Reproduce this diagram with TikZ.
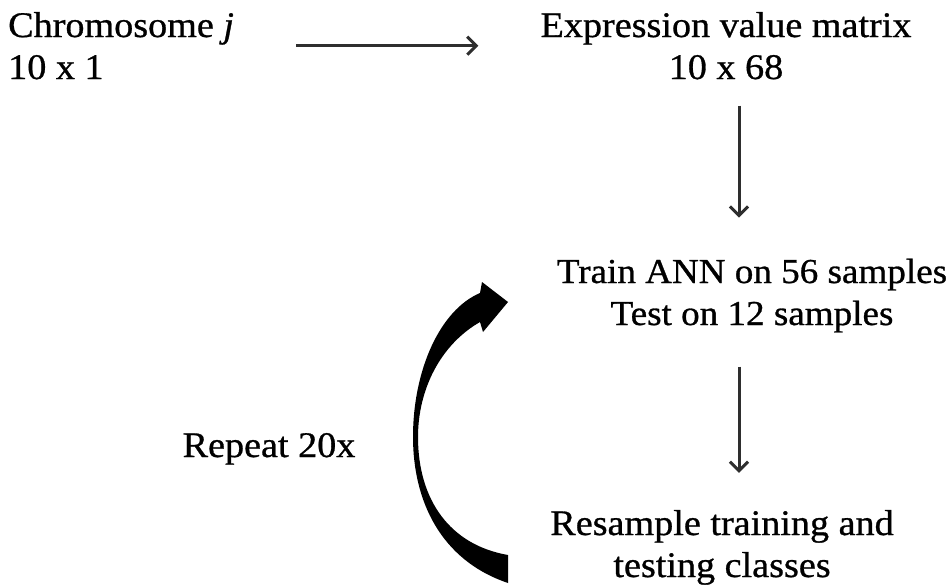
\documentclass[tikz,border=0pt]{standalone}
\usepackage{fontspec}
\setmainfont[FakeBold=0.8,FakeStretch=1.06]{Liberation Serif}
\usetikzlibrary{arrows.meta}
\begin{document}
\begin{tikzpicture}[x=1pt,y=-1pt,
  label text/.style={inner sep=0pt, font=\fontsize{36}{42}\selectfont},
  flow/.style={draw=black!82, line width=3pt,
    -{Straight Barb[length=9pt,width=18pt,line width=3pt]}}]
\useasboundingbox (0,0) rectangle (947,586);

% text blocks (anchored on the baseline of their last line)
\node[label text, align=left, anchor=base west] (chrom) at (8,79)
  {Chromosome \textit{j}\\10 x 1};
\node[label text, align=center, anchor=base] (expr) at (726,79)
  {Expression value matrix\\10 x 68};
\node[label text, font=\fontsize{35}{42}\selectfont, align=center, anchor=base] (train) at (752,325)
  {Train ANN on 56 samples\\Test on 12 samples};
\node[label text, align=center, anchor=base] (resample) at (722,577)
  {Resample training and\\testing classes};
\node[label text, anchor=base] (repeat) at (269,457) {Repeat 20x};

% column of the vertical arrows
\coordinate (col) at (739,0);

% straight connectors
\draw[flow, shorten <=62pt, shorten >=62pt] (chrom.east) -- (chrom.east -| expr.west);
\draw[flow, shorten <=26pt, shorten >=41pt] (expr.south -| col) -- (train.north -| col);
\draw[flow, shorten <=34pt, shorten >=37pt] (train.south -| col) -- (resample.north -| col);

% thick curved "repeat" arrow, tapering in the middle
\fill[black] (508,555)
  .. controls (450,545) and (418,500) .. (418,437)
  .. controls (418,390) and (440,345) .. (480,322)
  -- (483,332) -- (508,302) -- (482,282) -- (480,293)
  .. controls (440,310) and (413,370) .. (413,437)
  .. controls (413,500) and (440,560) .. (508,583)
  -- cycle;
\end{tikzpicture}
\end{document}
